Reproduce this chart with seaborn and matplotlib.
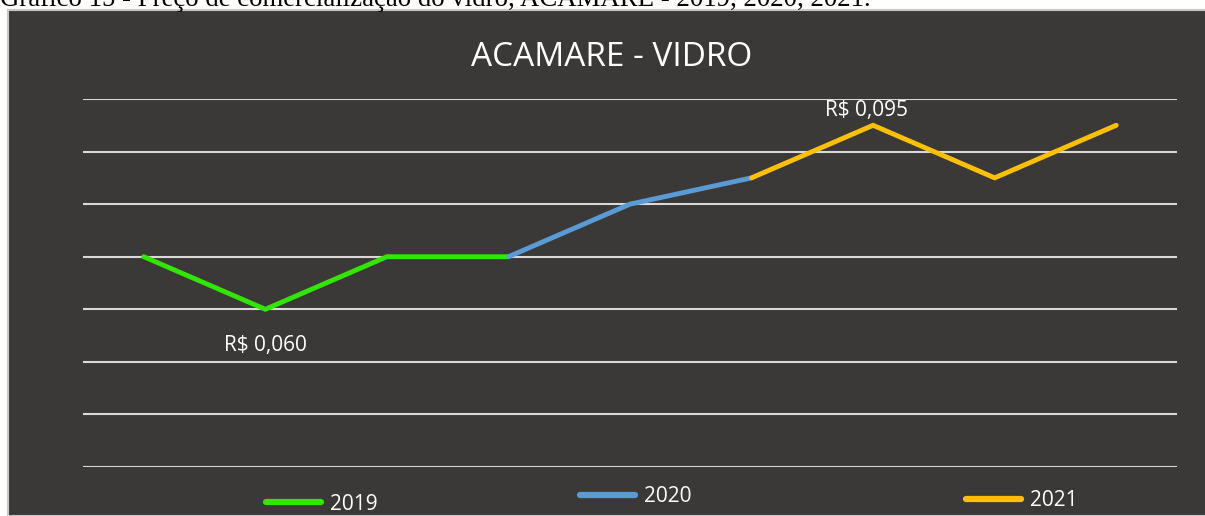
import matplotlib
matplotlib.use("Agg")
import matplotlib.pyplot as plt
import seaborn as sns
import pandas as pd
from matplotlib.patches import Rectangle
from matplotlib.lines import Line2D

# ---- data ----
periods = list(range(9))
prices = [0.070, 0.060, 0.070, 0.070, 0.080, 0.085, 0.095, 0.085, 0.095]
series_names = ["2019", "2020", "2021"]
series_ranges = [(0, 3), (3, 5), (5, 8)]
series_colors = ["#33e600", "#5b9bd5", "#ffc000"]
labelled = {1: "R$ 0,060", 6: "R$ 0,095"}
title = "ACAMARE - VIDRO"
caption = "Gráfico 15 - Preço de comercialização do vidro, ACAMARE - 2019, 2020, 2021."

BG = "#3a3937"
GRID = "#d9d9d9"

sns.set_theme(style="dark")
plt.rcParams["font.family"] = ["Open Sans", "DejaVu Sans"]

W, H = 1205, 516
fig = plt.figure(figsize=(W / 100, H / 100), dpi=100, facecolor="white")

# dark chart box
fig.patches.append(Rectangle((8 / W, 0), 1.0, 1 - 10 / H, transform=fig.transFigure,
                             facecolor=BG, edgecolor="#c8c8c8", linewidth=1.5, zorder=-5))

# caption, partly cut off at the top
fig.text(0.0, 1 - 6 / H, caption, ha="left", va="baseline",
         fontsize=19.3, family=["Liberation Serif"], color="black", zorder=-4)

ax = fig.add_axes([83 / W, 1 - 467 / H, (1177 - 83) / W, (467 - 99) / H], zorder=2)
ax.set_facecolor(BG)

rows = []
for name, (a, b) in zip(series_names, series_ranges):
    for i in range(a, b + 1):
        rows.append({"period": periods[i], "price": prices[i], "ano": name})
df = pd.DataFrame(rows)

for name, color in zip(series_names, series_colors):
    sub = df[df["ano"] == name]
    sns.lineplot(data=sub, x="period", y="price", ax=ax, color=color,
                 linewidth=3.5, solid_capstyle="round", solid_joinstyle="miter",
                 legend=False, zorder=3)

ax.set_xlim(-0.5, 8.5)
ax.set_ylim(0.03, 0.10)
ax.set_yticks([0.03, 0.04, 0.05, 0.06, 0.07, 0.08, 0.09, 0.10])
ax.set_xticks([])
ax.tick_params(left=False, bottom=False, labelleft=False)
ax.grid(axis="y", color=GRID, linewidth=1.5)
ax.grid(axis="x", visible=False)
for s in ax.spines.values():
    s.set_visible(False)
ax.set_xlabel("")
ax.set_ylabel("")

# data labels
for i, txt in labelled.items():
    if prices[i] < 0.07:
        ax.annotate(txt, (periods[i], prices[i]), xytext=(0, -26), textcoords="offset points",
                    ha="center", va="center", color="white", fontsize=15)
    else:
        ax.annotate(txt, (periods[i], prices[i]), xytext=(-5, 11), textcoords="offset points",
                    ha="center", va="center", color="white", fontsize=15)

# title
fig.text(612 / W, 1 - 57 / H, title, ha="center", va="center", color="white", fontsize=24)

# legends, placed individually as in the reference
leg_pos = [(322 / W, 1 - 504 / H), (636 / W, 1 - 497 / H), (1022 / W, 1 - 501 / H)]
for name, color, pos in zip(series_names, series_colors, leg_pos):
    h = Line2D([0], [0], color=color, linewidth=4.5, solid_capstyle="round")
    lg = fig.legend([h], [name], loc="center", bbox_to_anchor=pos, frameon=False,
                    handlelength=2.6, handletextpad=0.45, fontsize=15, labelcolor="white",
                    borderpad=0)

fig.savefig("out.png", dpi=100, facecolor="white")
